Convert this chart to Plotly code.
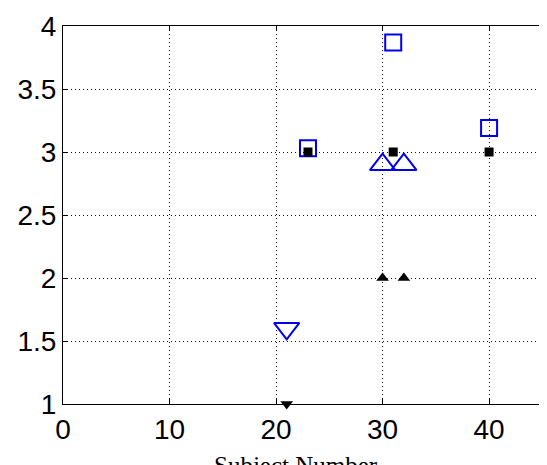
import plotly.graph_objects as go

# Data
sq_blue_x = [23, 31, 40]
sq_blue_y = [3.03, 3.87, 3.19]
sq_black_x = [23, 31, 40]
sq_black_y = [3.0, 3.0, 3.0]
tri_up_blue_x = [30, 32]
tri_up_blue_y = [2.9, 2.9]
tri_up_black_x = [30, 32]
tri_up_black_y = [2.0, 2.0]
tri_dn_blue_x = [21]
tri_dn_blue_y = [1.6]
tri_dn_black_x = [21]
tri_dn_black_y = [1.0]

x_ticks = [0, 10, 20, 30, 40]
y_ticks = [1, 1.5, 2, 2.5, 3, 3.5, 4]
y_tick_text = ["1", "1.5", "2", "2.5", "3", "3.5", "4"]
x_title = "Subject Number"

BLUE = "#0000ee"

fig = go.Figure()
fig.add_trace(go.Scatter(x=sq_blue_x, y=sq_blue_y, mode="markers", cliponaxis=False,
                         marker=dict(symbol="square-open", size=16, color=BLUE, line=dict(width=2, color=BLUE))))
fig.add_trace(go.Scatter(x=tri_up_blue_x, y=tri_up_blue_y, mode="markers", cliponaxis=False,
                         marker=dict(symbol="triangle-up-open", size=22, color=BLUE, line=dict(width=2, color=BLUE))))
fig.add_trace(go.Scatter(x=tri_dn_blue_x, y=tri_dn_blue_y, mode="markers", cliponaxis=False,
                         marker=dict(symbol="triangle-down-open", size=22, color=BLUE, line=dict(width=2, color=BLUE))))
fig.add_trace(go.Scatter(x=sq_black_x, y=sq_black_y, mode="markers", cliponaxis=False,
                         marker=dict(symbol="square", size=9, color="black", line=dict(width=0))))
fig.add_trace(go.Scatter(x=tri_up_black_x, y=tri_up_black_y, mode="markers", cliponaxis=False,
                         marker=dict(symbol="triangle-up", size=11, color="black", line=dict(width=0))))
fig.add_trace(go.Scatter(x=tri_dn_black_x, y=tri_dn_black_y, mode="markers", cliponaxis=False,
                         marker=dict(symbol="triangle-down", size=11, color="black", line=dict(width=0))))

axis_common = dict(
    showline=True, linecolor="black", linewidth=1, mirror="ticks",
    ticks="inside", ticklen=5, tickcolor="black",
    showgrid=True, gridcolor="#111111", gridwidth=1, griddash="1px,3px",
    zeroline=False, automargin=False,
    tickfont=dict(family="Liberation Sans, Arial", size=28, color="black"),
)

fig.update_xaxes(range=[0, 45.25], tickvals=x_ticks, **axis_common)
fig.update_yaxes(range=[1, 4], tickvals=y_ticks, ticktext=y_tick_text, **axis_common)

fig.add_annotation(text=x_title, xref="paper", yref="paper", x=0.484, y=0,
                   xanchor="center", yanchor="top", yshift=-46, showarrow=False,
                   font=dict(family="Liberation Serif, Times New Roman", size=25, color="black"))

# The page body has an 8px margin, so the figure is sized/offset to compensate
fig.update_layout(
    width=539, height=457,
    margin=dict(l=55, r=2, t=18, b=61),
    paper_bgcolor="white", plot_bgcolor="white",
    showlegend=False,
)

fig.write_html("out.html")
